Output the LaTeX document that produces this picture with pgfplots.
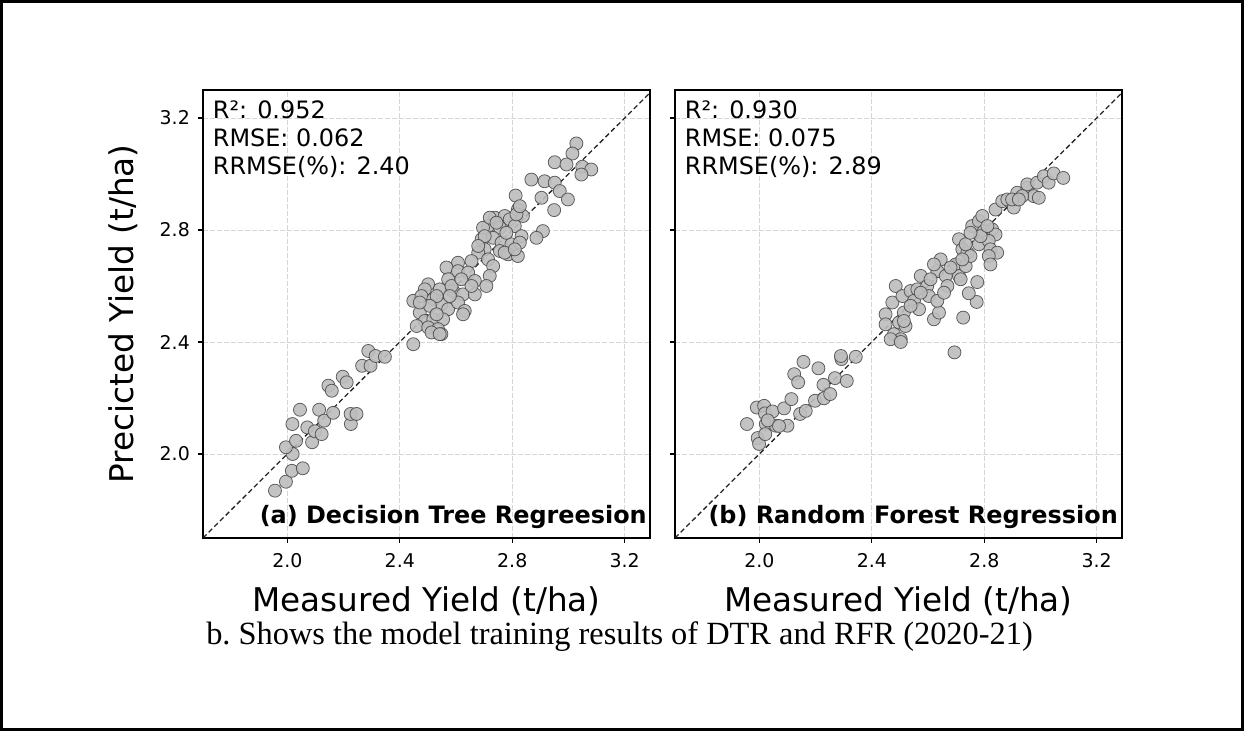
\documentclass[border=0pt]{standalone}
\usepackage{fontspec}
\setmainfont{DejaVu Sans}
\newfontfamily\capfont{Liberation Serif}
\usepackage{pgfplots}
\pgfplotsset{compat=1.18}
\usepackage{pgfplotstable}

\pgfplotstableread{
x y
1.956 1.869
1.995 1.901
2.016 1.940
2.055 1.949
2.019 2.000
1.995 2.024
2.031 2.047
2.018 2.107
2.045 2.158
2.071 2.095
2.088 2.042
2.098 2.081
2.122 2.071
2.113 2.158
2.131 2.119
2.163 2.147
2.146 2.244
2.158 2.226
2.197 2.276
2.211 2.256
2.226 2.107
2.225 2.143
2.246 2.143
2.266 2.315
2.288 2.368
2.296 2.315
2.314 2.350
2.347 2.347
2.448 2.392
3.028 3.109
3.014 3.073
2.951 3.042
2.993 3.034
3.049 3.026
3.081 3.016
3.046 2.998
2.868 2.980
2.915 2.974
2.951 2.969
2.969 2.939
2.998 2.909
2.904 2.915
2.949 2.871
2.812 2.923
2.820 2.873
2.838 2.850
2.738 2.844
2.773 2.850
2.791 2.838
2.714 2.814
2.756 2.808
2.809 2.814
2.833 2.778
2.909 2.796
2.886 2.772
2.691 2.767
2.732 2.772
2.762 2.755
2.797 2.749
2.827 2.755
2.702 2.731
2.756 2.725
2.785 2.713
2.820 2.707
2.679 2.719
2.714 2.695
2.732 2.671
2.655 2.689
2.607 2.683
2.566 2.666
2.607 2.653
2.643 2.648
2.572 2.624
2.667 2.618
2.720 2.636
2.708 2.600
2.501 2.606
2.489 2.588
2.542 2.588
2.590 2.582
2.625 2.570
2.667 2.570
2.448 2.547
2.477 2.564
2.519 2.553
2.548 2.535
2.572 2.517
2.607 2.541
2.631 2.511
2.471 2.505
2.489 2.475
2.519 2.481
2.554 2.481
2.460 2.457
2.501 2.452
2.536 2.446
2.548 2.428
2.513 2.434
2.542 2.428
2.625 2.499
2.696 2.808
2.720 2.844
2.744 2.826
2.702 2.778
2.779 2.790
2.815 2.856
2.827 2.885
2.679 2.743
2.773 2.719
2.809 2.731
2.584 2.600
2.531 2.564
2.507 2.529
2.471 2.541
2.578 2.564
2.619 2.624
2.655 2.600
2.531 2.499
}\dtr

\pgfplotstableread{
x y
1.956 2.107
1.991 2.166
2.017 2.172
2.020 2.145
2.047 2.152
2.023 2.107
1.994 2.057
1.999 2.036
2.021 2.071
2.059 2.101
2.100 2.101
2.088 2.163
2.114 2.196
2.124 2.285
2.138 2.256
2.157 2.329
2.145 2.143
2.165 2.154
2.198 2.190
2.210 2.306
2.228 2.247
2.230 2.199
2.252 2.214
2.269 2.271
2.292 2.339
2.290 2.350
2.311 2.261
2.343 2.347
2.694 2.363
2.725 2.487
2.773 2.543
2.745 2.574
2.775 2.614
2.485 2.600
2.449 2.499
2.449 2.463
2.473 2.541
2.479 2.428
2.503 2.410
2.497 2.470
2.514 2.505
2.520 2.457
2.509 2.564
2.538 2.582
2.550 2.547
2.568 2.517
2.574 2.636
2.562 2.588
2.597 2.600
2.603 2.564
2.621 2.481
2.639 2.505
2.633 2.547
2.645 2.695
2.633 2.653
2.663 2.636
2.669 2.600
2.657 2.576
2.698 2.677
2.710 2.636
2.716 2.624
2.734 2.671
2.710 2.767
2.722 2.731
2.740 2.719
2.751 2.707
2.734 2.749
2.757 2.814
2.781 2.832
2.793 2.850
2.799 2.796
2.828 2.802
2.840 2.784
2.781 2.749
2.816 2.761
2.822 2.731
2.846 2.719
2.816 2.707
2.822 2.677
2.840 2.873
2.864 2.903
2.882 2.909
2.905 2.880
2.917 2.933
2.953 2.951
2.976 2.921
2.994 2.915
2.953 2.963
2.988 2.969
3.012 2.992
3.029 2.969
3.047 3.002
3.081 2.986
2.935 2.921
2.899 2.909
2.467 2.410
2.503 2.400
2.787 2.778
2.751 2.790
2.811 2.814
2.722 2.695
2.680 2.666
2.609 2.624
2.538 2.529
2.514 2.475
2.574 2.576
2.621 2.677
2.923 2.909
2.030 2.120
2.070 2.100
}\rfr

\pgfplotsset{
  panel/.style={
    scale only axis, width=447bp, height=448bp,
    anchor=south west,
    xmin=1.70, xmax=3.29, ymin=1.70, ymax=3.30,
    xtick={2.0,2.4,2.8,3.2}, ytick={2.0,2.4,2.8,3.2},
    xticklabels={2.0,2.4,2.8,3.2},
    axis line style={line width=2.7bp},
    tick align=outside, tick pos=left,
    major tick length=5bp,
    major tick style={line width=1.2bp, black},
    grid=major,
    major grid style={line width=0.9bp, color=black!16, dash pattern=on 4.5bp off 2.5bp},
    /pgf/number format/assume math mode=true,
    tick label style={font=\fontsize{19}{22}\selectfont},
    xticklabel style={anchor=north, inner sep=0pt, yshift=-10.5bp},
    yticklabel style={anchor=east, inner sep=0pt, xshift=-8bp},
    every axis x label/.style={at={(axis description cs:0.5,-0.163)}, anchor=base, font=\fontsize{32.8}{38}\selectfont},
    every axis y label/.style={at={(axis description cs:-0.1544,0.5)}, rotate=90, anchor=base, font=\fontsize{32.8}{38}\selectfont},
  },
  pts/.style={only marks, mark=*, mark size=6.5bp,
    mark options={fill=gray!52, draw=black!72, line width=0.8bp, fill opacity=0.9, draw opacity=0.85}},
  diag/.style={black!85, line width=1.3bp, dash pattern=on 5bp off 3bp},
}

\begin{document}
\begin{tikzpicture}[x=1bp,y=1bp]
\useasboundingbox (0,0) rectangle (1244,731);
\draw[line width=3bp] (1.5,1.5) rectangle (1242.5,729.5);

\begin{axis}[panel, at={(203bp,193bp)}, yticklabels={2.0,2.4,2.8,3.2},
  xlabel={Measured Yield (t/ha)}, ylabel={Precicted Yield (t/ha)}]
\addplot[pts] table {\dtr};
\addplot[diag] coordinates {(1.7,1.7) (3.3,3.3)};
\node[anchor=base west, inner sep=0pt, font=\fontsize{24}{28}\selectfont] at ([xshift=9.7bp,yshift=-28.3bp]rel axis cs:0,1) {R²: 0.952};
\node[anchor=base west, inner sep=0pt, font=\fontsize{24}{28}\selectfont] at ([xshift=9.7bp,yshift=-56.5bp]rel axis cs:0,1) {RMSE: 0.062};
\node[anchor=base west, inner sep=0pt, font=\fontsize{24}{28}\selectfont] at ([xshift=9.7bp,yshift=-84.5bp]rel axis cs:0,1) {RRMSE(\%): 2.40};
\node[anchor=base east, inner sep=0pt, font=\bfseries\fontsize{24}{28}\selectfont] at ([xshift=-3bp,yshift=14.7bp]rel axis cs:1,0) {(a) Decision Tree Regreesion};
\end{axis}

\begin{axis}[panel, at={(675bp,193bp)}, yticklabels={},
  xlabel={Measured Yield (t/ha)}]
\addplot[pts] table {\rfr};
\addplot[diag] coordinates {(1.7,1.7) (3.3,3.3)};
\node[anchor=base west, inner sep=0pt, font=\fontsize{24}{28}\selectfont] at ([xshift=9.7bp,yshift=-28.3bp]rel axis cs:0,1) {R²: 0.930};
\node[anchor=base west, inner sep=0pt, font=\fontsize{24}{28}\selectfont] at ([xshift=9.7bp,yshift=-56.5bp]rel axis cs:0,1) {RMSE: 0.075};
\node[anchor=base west, inner sep=0pt, font=\fontsize{24}{28}\selectfont] at ([xshift=9.7bp,yshift=-84.5bp]rel axis cs:0,1) {RRMSE(\%): 2.89};
\node[anchor=base east, inner sep=0pt, font=\bfseries\fontsize{24}{28}\selectfont] at ([xshift=-4bp,yshift=14.7bp]rel axis cs:1,0) {(b) Random Forest Regression};
\end{axis}

\node[anchor=base, inner sep=0pt, font=\capfont\fontsize{32.5}{38}\selectfont] at (619.5,86) {b.\ Shows the model training results of DTR and RFR (2020-21)};
\end{tikzpicture}
\end{document}
